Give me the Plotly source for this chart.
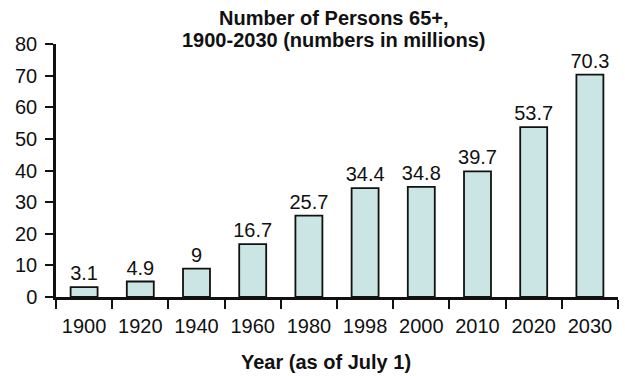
import plotly.graph_objects as go

years = ["1900", "1920", "1940", "1960", "1980", "1998", "2000", "2010", "2020", "2030"]
persons = [3.1, 4.9, 9, 16.7, 25.7, 34.4, 34.8, 39.7, 53.7, 70.3]
labels = ["3.1", "4.9", "9", "16.7", "25.7", "34.4", "34.8", "39.7", "53.7", "70.3"]
y_ticks = [0, 10, 20, 30, 40, 50, 60, 70, 80]

FONT = "Liberation Sans, Arial, sans-serif"
L, R, T, B = 56, 7, 44, 79
PW, PH = 625 - L - R, 376 - T - B


def py(pixel_y):
    return (376 - B - pixel_y) / PH


def px(pixel_x):
    return (pixel_x - L) / PW


fig = go.Figure(go.Bar(
    x=years, y=persons, text=labels, textposition="outside",
    textfont=dict(family=FONT, size=20, color="#111"),
    marker=dict(color="#cbe4e4", line=dict(color="#111", width=1.8)),
    cliponaxis=False, constraintext="none",
))

fig.update_layout(
    width=625, height=376,
    margin=dict(l=L, r=R, t=T, b=B, autoexpand=False),
    paper_bgcolor="white", plot_bgcolor="white",
    bargap=0.52,
    showlegend=False,
    font=dict(family=FONT, color="#111"),
    annotations=[
        dict(text="<b>Number of Persons 65+,</b>", xref="paper", yref="paper",
             x=px(334), y=py(18), xanchor="center", yanchor="middle",
             showarrow=False, font=dict(family=FONT, size=20, color="#111")),
        dict(text="<b>1900-2030 (numbers in millions)</b>", xref="paper", yref="paper",
             x=px(333), y=py(40), xanchor="center", yanchor="middle",
             showarrow=False, font=dict(family=FONT, size=20, color="#111")),
        dict(text="<b>Year (as of July 1)</b>", xref="paper", yref="paper",
             x=px(326), y=py(362), xanchor="center", yanchor="middle",
             showarrow=False, font=dict(family=FONT, size=20, color="#111")),
    ],
)

fig.update_xaxes(
    type="category", tickson="boundaries", ticks="outside", ticklen=9, tickwidth=2,
    tickcolor="#111", showline=True, linecolor="#111", linewidth=2.5,
    showgrid=False, zeroline=False, ticklabelstandoff=9, automargin=False,
    tickfont=dict(family=FONT, size=20, color="#111"),
)
fig.update_yaxes(
    range=[0, 80], tickvals=y_ticks, ticks="outside", ticklen=8, tickwidth=2,
    tickcolor="#111", showline=True, linecolor="#111", linewidth=2.5,
    showgrid=False, zeroline=False, ticklabelstandoff=4, automargin=False,
    tickfont=dict(family=FONT, size=20, color="#111"),
)

fig.write_html(
    "out.html",
    config={"displayModeBar": False},
    post_script="document.body.style.margin='0';document.body.style.overflow='hidden';",
)
